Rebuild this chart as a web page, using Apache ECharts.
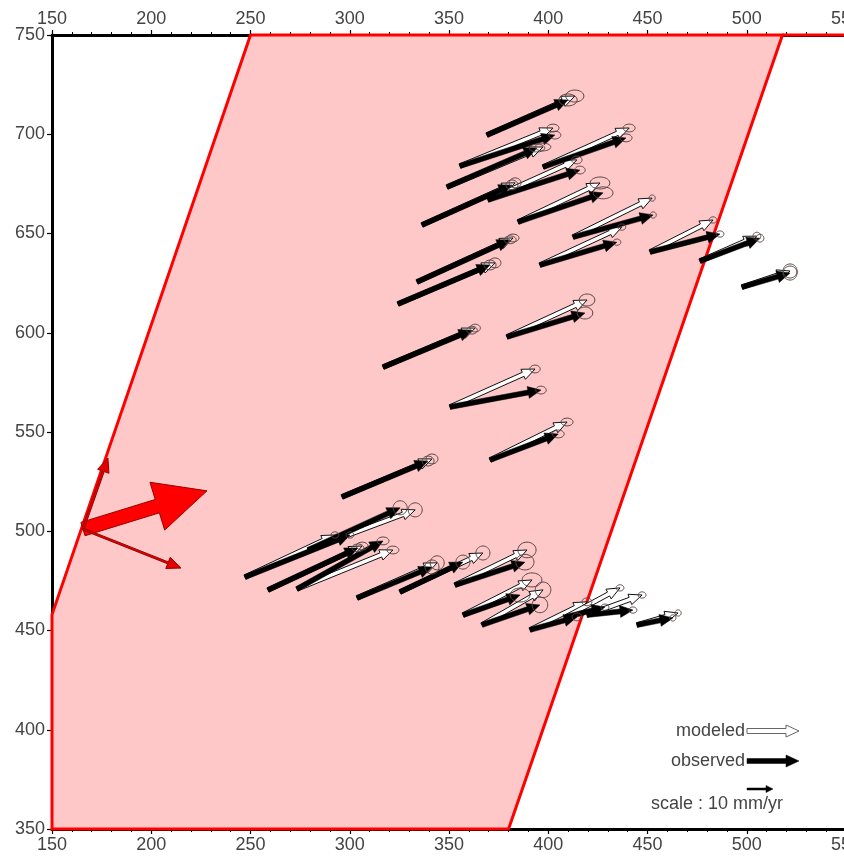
<!DOCTYPE html>
<html><head><meta charset="utf-8">
<script src="https://cdn.jsdelivr.net/npm/echarts/dist/echarts.min.js"></script>
<style>html,body{margin:0;padding:0;background:#fff}#c{width:844px;height:863px}</style>
</head><body><div id="c"></div><script>
// ---- data ----
const xTicks = [150, 200, 250, 300, 350, 400, 450, 500, 550];
const yTicks = [350, 400, 450, 500, 550, 600, 650, 700, 750];
// deforming zone polygon (map units)
const zoneX = [150, 250, 518, 380, 150];
const zoneY = [458, 750, 750, 350, 350];
// GPS stations (map units)
const stationX = [369.1,355.5,349.0,397.4,336.4,369.6,384.8,412.5,395.8,333.9,324.3,379.2,316.8,350.5,370.7,296.1,451.3,476.4,497.6,247.2,279.0,258.8,273.4,303.7,325.3,353.0,357.1,366.6,390.8,408.9,419.5,444.7];
const stationY = [699.6,684.0,673.4,683.5,654.3,666.9,655.8,648.2,634.1,625.6,614.5,597.9,582.7,562.6,535.9,517.3,640.7,636.1,623.0,476.9,490.6,470.4,470.9,466.4,469.4,472.9,457.8,452.8,450.3,456.8,457.8,452.8];
// observed velocities (mm/yr)
const obsVE = [31.2,36.5,34.6,31.9,34.6,35.4,32.7,30.8,29.6,35.8,35.4,30.0,34.2,35.0,26.2,33.1,26.9,23.1,18.5,40.4,35.4,34.6,33.1,28.8,24.2,26.9,21.9,22.3,18.1,15.0,17.7,13.8];
const obsVN = [13.5,11.9,15.0,11.2,15.4,11.5,11.2,8.5,8.8,16.2,15.0,9.2,14.2,6.5,10.0,13.8,6.9,8.8,5.4,16.2,16.2,16.2,18.5,11.9,11.5,8.8,7.7,7.7,5.0,3.8,1.9,2.7];
// modeled velocities (mm/yr)
const modVE = [33.8,35.8,36.9,33.1,35.8,34.2,31.5,30.4,31.5,36.9,37.3,30.8,35.4,32.7,29.6,34.6,24.2,21.9,18.5,34.6,41.2,36.2,36.9,30.8,31.9,27.7,26.5,23.5,21.9,20.8,21.2,15.8];
const modVN = [15.0,14.6,15.4,15.0,16.2,15.4,15.0,15.0,14.6,16.9,15.8,14.2,15.0,14.6,14.6,14.6,12.3,9.6,6.2,16.2,15.4,16.9,15.0,13.5,15.0,13.5,13.5,13.5,10.8,11.2,7.7,4.6];
// error ellipse half axes (mm/yr)
const errE = [3.5,2.3,3.0,2.3,2.3,2.0,3.8,1.2,1.5,2.3,2.3,3.0,2.0,2.0,2.3,2.3,1.5,1.5,2.7,1.5,2.7,2.3,2.3,2.7,2.7,3.5,3.8,3.0,1.9,1.5,1.5,1.2];
const errN = [2.3,1.5,1.5,1.5,1.9,1.5,2.3,1.2,1.2,1.5,1.9,2.3,1.5,1.5,1.5,1.9,1.2,1.5,2.7,1.2,2.7,1.5,1.5,2.7,2.7,3.0,2.7,3.0,1.5,1.2,1.2,1.2];
// red arrows: origin (map units) and vectors (mm/yr)
const plateOrigin = [165.6, 501.1];
const plateVE = [47.7, 9.6, 37.7];
const plateVN = [14.7, 27.3, -15.0];
const scaleMM = 10;
const S = 1.31; // map units per mm/yr

function arrowPts(p0, p1, sw, hl, hw) {
  const dx = p1[0]-p0[0], dy = p1[1]-p0[1];
  const L = Math.hypot(dx, dy) || 1;
  const ux = dx/L, uy = dy/L, nx = -uy, ny = ux;
  const h = Math.min(hl, L*0.9);
  const bx = p1[0]-ux*h, by = p1[1]-uy*h;
  return [[p0[0]+nx*sw,p0[1]+ny*sw],[bx+nx*sw,by+ny*sw],[bx+nx*hw,by+ny*hw],[p1[0],p1[1]],
          [bx-nx*hw,by-ny*hw],[bx-nx*sw,by-ny*sw],[p0[0]-nx*sw,p0[1]-ny*sw]];
}
function ellPts(c, rx, ry) {
  const pts = [];
  for (let i = 0; i < 36; i++) { const a = i/36*Math.PI*2; pts.push([c[0]+rx*Math.cos(a), c[1]+ry*Math.sin(a)]); }
  return pts;
}
const idx = stationX.map((_, i) => [i]);

const chart = echarts.init(document.getElementById('c'), null, {renderer: 'canvas'});
const font = '"Liberation Sans", Arial, sans-serif';
const labelColor = '#444';
const xAxisBase = {
  type: 'value', min: xTicks[0], max: xTicks[xTicks.length-1], interval: 50,
  axisLine: {show: true, onZero: false, lineStyle: {color: '#000', width: 3}},
  axisTick: {show: true, length: 5, lineStyle: {color: '#000', width: 1.2}},
  minorTick: {show: true, splitNumber: 5, length: 3, lineStyle: {color: '#000', width: 1}},
  splitLine: {show: false},
  axisLabel: {color: labelColor, fontSize: 18, fontFamily: font, margin: 7, showMaxLabel: true, showMinLabel: true, hideOverlap: false}
};
chart.setOption({
  animation: false,
  grid: {left: 52, top: 35, width: 794, height: 794, containLabel: false, outerBoundsMode: 'none'},
  xAxis: [Object.assign({position: 'bottom'}, xAxisBase), Object.assign({position: 'top'}, xAxisBase)],
  yAxis: {
    type: 'value', min: yTicks[0], max: yTicks[yTicks.length-1], interval: 50,
    axisLine: {show: true, onZero: false, lineStyle: {color: '#000', width: 3}},
    axisTick: {show: true, length: 5, lineStyle: {color: '#000', width: 1.2}},
    splitLine: {show: false},
    axisLabel: {color: labelColor, fontSize: 18, fontFamily: font, margin: 7}
  },
  series: [
    { // zone
      type: 'custom', clip: false, data: [[0]], z: 1,
      renderItem: (params, api) => {
        const pts = zoneX.map((x, i) => api.coord([x, zoneY[i]]));
        const topEnd = api.coord([xTicks[xTicks.length-1], zoneY[1]]);
        return {type: 'group', children: [
          {type: 'polygon', shape: {points: pts}, style: {fill: '#ffc8c8', stroke: '#ff0000', lineWidth: 3, lineJoin: 'miter'}},
          {type: 'line', shape: {x1: pts[2][0], y1: pts[2][1], x2: topEnd[0], y2: topEnd[1]}, style: {stroke: '#ff0000', lineWidth: 3}}
        ]};
      }
    },
    { // modeled
      type: 'custom', clip: false, data: idx, z: 3,
      renderItem: (params, api) => {
        const i = api.value(0);
        const p0 = api.coord([stationX[i], stationY[i]]);
        const p1 = api.coord([stationX[i]+modVE[i]*S, stationY[i]+modVN[i]*S]);
        return {type: 'polygon', shape: {points: arrowPts(p0, p1, 2.2, 13, 5.5)}, style: {fill: '#fff', stroke: '#111', lineWidth: 1}};
      }
    },
    { // observed
      type: 'custom', clip: false, data: idx, z: 4,
      renderItem: (params, api) => {
        const i = api.value(0);
        const p0 = api.coord([stationX[i], stationY[i]]);
        const p1 = api.coord([stationX[i]+obsVE[i]*S, stationY[i]+obsVN[i]*S]);
        return {type: 'polygon', shape: {points: arrowPts(p0, p1, 2.5, 13, 6)}, style: {fill: '#000', stroke: '#000', lineWidth: 0.5}};
      }
    },
    { // error ellipses
      type: 'custom', clip: false, data: idx, z: 5,
      renderItem: (params, api) => {
        const i = api.value(0);
        const o = api.coord([stationX[i]+obsVE[i]*S, stationY[i]+obsVN[i]*S]);
        const m = api.coord([stationX[i]+modVE[i]*S, stationY[i]+modVN[i]*S]);
        const r = api.coord([stationX[i]+obsVE[i]*S+errE[i]*S, stationY[i]+obsVN[i]*S+errN[i]*S]);
        const rx = Math.abs(r[0]-o[0]), ry = Math.abs(r[1]-o[1]);
        const st = {fill: 'none', stroke: '#5a4545', lineWidth: 1};
        return {type: 'group', children: [
          {type: 'polygon', shape: {points: ellPts(o, rx, ry)}, style: st},
          {type: 'polygon', shape: {points: ellPts(m, rx, ry)}, style: st}
        ]};
      }
    },
    { // plate arrows
      type: 'custom', clip: false, data: plateVE.map((_, i) => [i]), z: 6,
      renderItem: (params, api) => {
        const i = api.value(0);
        const p0 = api.coord(plateOrigin);
        const p1 = api.coord([plateOrigin[0]+plateVE[i]*S, plateOrigin[1]+plateVN[i]*S]);
        if (i === 0) {
          return {type: 'polygon', shape: {points: arrowPts(p0, p1, 7, 52, 25)}, style: {fill: '#ff0000', stroke: '#9a0000', lineWidth: 1}};
        }
        return {type: 'polygon', shape: {points: arrowPts(p0, p1, 1, 14, 6)}, style: {fill: '#e00000', stroke: '#9a0000', lineWidth: 1}};
      }
    }
  ]
});

// legend (layout in pixels)
const sLen = chart.convertToPixel({xAxisIndex: 0}, 150 + scaleMM*S) - chart.convertToPixel({xAxisIndex: 0}, 150);
const lx = 747, lLen = 2*sLen;
chart.setOption({graphic: [
  {type: 'text', x: 745, y: 731, style: {text: 'modeled', textAlign: 'right', textVerticalAlign: 'middle', fontSize: 18, fontFamily: font, fill: labelColor}},
  {type: 'polygon', shape: {points: arrowPts([lx, 731], [lx+lLen, 731], 2.5, 13, 6)}, style: {fill: '#fff', stroke: '#666', lineWidth: 1}},
  {type: 'text', x: 745, y: 761, style: {text: 'observed', textAlign: 'right', textVerticalAlign: 'middle', fontSize: 18, fontFamily: font, fill: labelColor}},
  {type: 'polygon', shape: {points: arrowPts([lx, 761], [lx+lLen, 761], 2.5, 13, 6)}, style: {fill: '#000', stroke: '#000', lineWidth: 0.5}},
  {type: 'polygon', shape: {points: arrowPts([lx, 789], [lx+sLen, 789], 1, 7, 3.5)}, style: {fill: '#000', stroke: '#000', lineWidth: 0.5}},
  {type: 'text', x: 717, y: 804, style: {text: 'scale : 10 mm/yr', textAlign: 'center', textVerticalAlign: 'middle', fontSize: 18, fontFamily: font, fill: labelColor}}
]});
</script></body></html>
